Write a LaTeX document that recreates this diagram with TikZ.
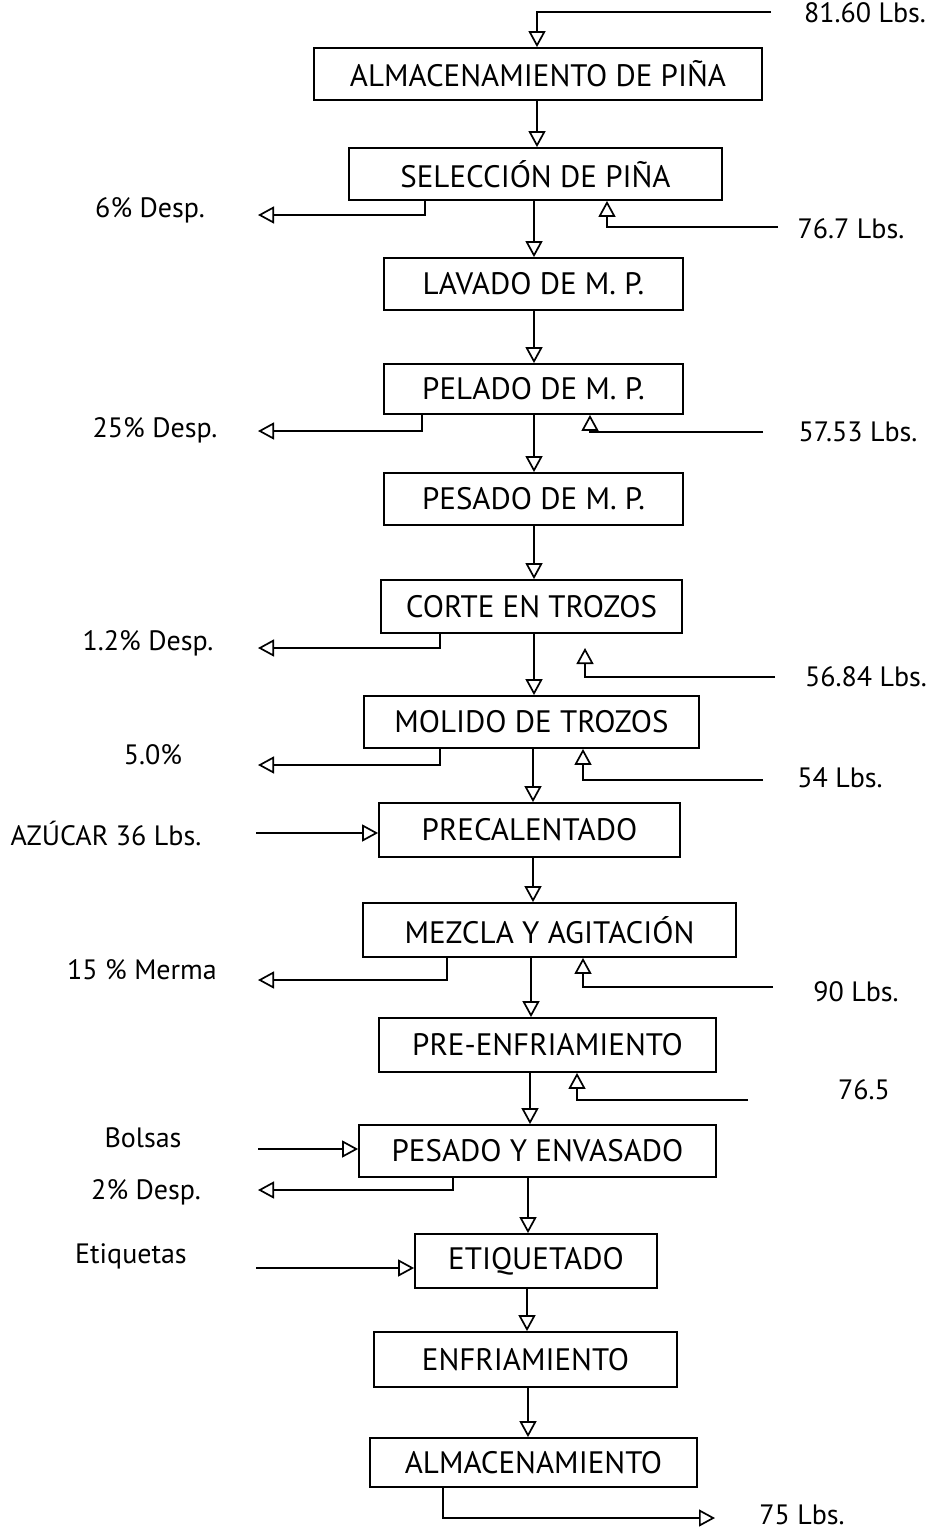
\documentclass[tikz,border=0pt]{standalone}
\usepackage{fontspec}
\setmainfont{PT Sans}
\usetikzlibrary{arrows.meta}
\begin{document}
\begin{tikzpicture}[x=1pt,y=-1pt,
  box/.style={draw, line width=1.8pt, inner sep=0pt, font=\fontsize{31}{34}\selectfont},
  lbl/.style={font=\fontsize{28}{31}\selectfont, inner sep=0pt},
  arr/.style={line width=1.9pt, -{Triangle[open, length=16pt, width=17pt, line width=1.7pt]}},
  ln/.style={line width=1.9pt}]
\useasboundingbox (0,0) rectangle (940,1531);
% process boxes
\node[box, minimum width=448, minimum height=52] (b1) at (538,74) {ALMACENAMIENTO DE PIÑA};
\node[box, minimum width=373, minimum height=52] (b2) at (535.5,174) {SELECCIÓN DE PIÑA};
\node[box, minimum width=299, minimum height=52] (b3) at (533.5,284) {LAVADO DE M. P.};
\node[box, minimum width=299, minimum height=50] (b4) at (533.5,389) {PELADO DE M. P.};
\node[box, minimum width=299, minimum height=52] (b5) at (533.5,499) {PESADO DE M. P.};
\node[box, minimum width=301, minimum height=53] (b6) at (531.5,606.5) {CORTE EN TROZOS};
\node[box, minimum width=335, minimum height=52] (b7) at (531.5,722) {MOLIDO DE TROZOS};
\node[box, minimum width=301, minimum height=54] (b8) at (529.5,830) {PRECALENTADO};
\node[box, minimum width=373, minimum height=54] (b9) at (549.5,930) {MEZCLA Y AGITACIÓN};
\node[box, minimum width=337, minimum height=54] (b10) at (547.5,1045) {PRE-ENFRIAMIENTO};
\node[box, minimum width=357, minimum height=52] (b11) at (537.5,1151) {PESADO Y ENVASADO};
\node[box, minimum width=242, minimum height=54] (b12) at (536,1261) {ETIQUETADO};
\node[box, minimum width=303, minimum height=55] (b13) at (525.5,1359.5) {ENFRIAMIENTO};
\node[box, minimum width=327, minimum height=49] (b14) at (533.5,1462.5) {ALMACENAMIENTO};
% labels
\node[lbl] (l0) at (865,13) {81.60 Lbs.};
\node[lbl] (d1) at (150,210) {6\% Desp.};
\node[lbl] (d2) at (155,430) {25\% Desp.};
\node[lbl] (d3) at (148,643) {1.2\% Desp.};
\node[lbl] (d4) at (153,755) {5.0\%};
\node[lbl] (d5) at (142,970) {15 \% Merma};
\node[lbl] (d6) at (146,1192) {2\% Desp.};
\node[lbl] (r1) at (851,229) {76.7 Lbs.};
\node[lbl] (r2) at (858,432) {57.53 Lbs.};
\node[lbl] (r3) at (866,677) {56.84 Lbs.};
\node[lbl] (r4) at (840,778) {54 Lbs.};
\node[lbl] (r5) at (856,992) {90 Lbs.};
\node[lbl] (r6) at (864,1090) {76.5};
\node[lbl] (i1) at (106,833) {AZÚCAR 36 Lbs.};
\node[lbl] (i2) at (143,1138) {Bolsas};
\node[lbl] (i3) at (131,1256) {Etiquetas};
\node[lbl] (o1) at (802,1515) {75 Lbs.};
% free-end coordinates
\coordinate (c0) at (771,12);
\coordinate (cd1) at (258,215);
\coordinate (cd2) at (258,431);
\coordinate (cd3) at (258,648);
\coordinate (cd4) at (258,765);
\coordinate (cd5) at (258,980);
\coordinate (cd6) at (258,1190);
\coordinate (cr1) at (778,227);
\coordinate (cr2) at (763,432);
\coordinate (cr3) at (775,677);
\coordinate (cr3t) at (585,648);
\coordinate (cr4) at (763,780);
\coordinate (cr5) at (773,987);
\coordinate (cr6) at (748,1100);
\coordinate (ci1) at (256,833);
\coordinate (ci2) at (258,1149);
\coordinate (ci3) at (256,1268);
\coordinate (co1) at (715,1518);
% main flow
\draw[arr] (c0) -| (537,0 |- b1.north);
\draw[arr] (537,0 |- b1.south) -- (537,0 |- b2.north);
\draw[arr] (534,0 |- b2.south) -- (534,0 |- b3.north);
\draw[arr] (534,0 |- b3.south) -- (534,0 |- b4.north);
\draw[arr] (534,0 |- b4.south) -- (534,0 |- b5.north);
\draw[arr] (534,0 |- b5.south) -- (534,0 |- b6.north);
\draw[arr] (534,0 |- b6.south) -- (534,0 |- b7.north);
\draw[arr] (533,0 |- b7.south) -- (533,0 |- b8.north);
\draw[arr] (533,0 |- b8.south) -- (533,0 |- b9.north);
\draw[arr] (531,0 |- b9.south) -- (531,0 |- b10.north);
\draw[arr] (530,0 |- b10.south) -- (530,0 |- b11.north);
\draw[arr] (528,0 |- b11.south) -- (528,0 |- b12.north);
\draw[arr] (527,0 |- b12.south) -- (527,0 |- b13.north);
\draw[arr] (528,0 |- b13.south) -- (528,0 |- b14.north);
% losses
\draw[arr] (425,0 |- b2.south) |- (cd1);
\draw[arr] (422,0 |- b4.south) |- (cd2);
\draw[arr] (440,0 |- b6.south) |- (cd3);
\draw[arr] (440,0 |- b7.south) |- (cd4);
\draw[arr] (447,0 |- b9.south) |- (cd5);
\draw[arr] (453,0 |- b11.south) |- (cd6);
% inputs from right
\draw[arr] (cr1) -| (607,0 |- b2.south);
\draw[arr] (cr2) -| (590,0 |- b4.south);
\draw[arr] (cr3) -| (cr3t);
\draw[arr] (cr4) -| (583,0 |- b7.south);
\draw[arr] (cr5) -| (583,0 |- b9.south);
\draw[arr] (cr6) -| (577,0 |- b10.south);
% inputs from left
\draw[arr] (ci1) -- (ci1 -| b8.west);
\draw[arr] (ci2) -- (ci2 -| b11.west);
\draw[arr] (ci3) -- (ci3 -| b12.west);
% output
\draw[arr] (443,0 |- b14.south) |- (co1);
\end{tikzpicture}
\end{document}
